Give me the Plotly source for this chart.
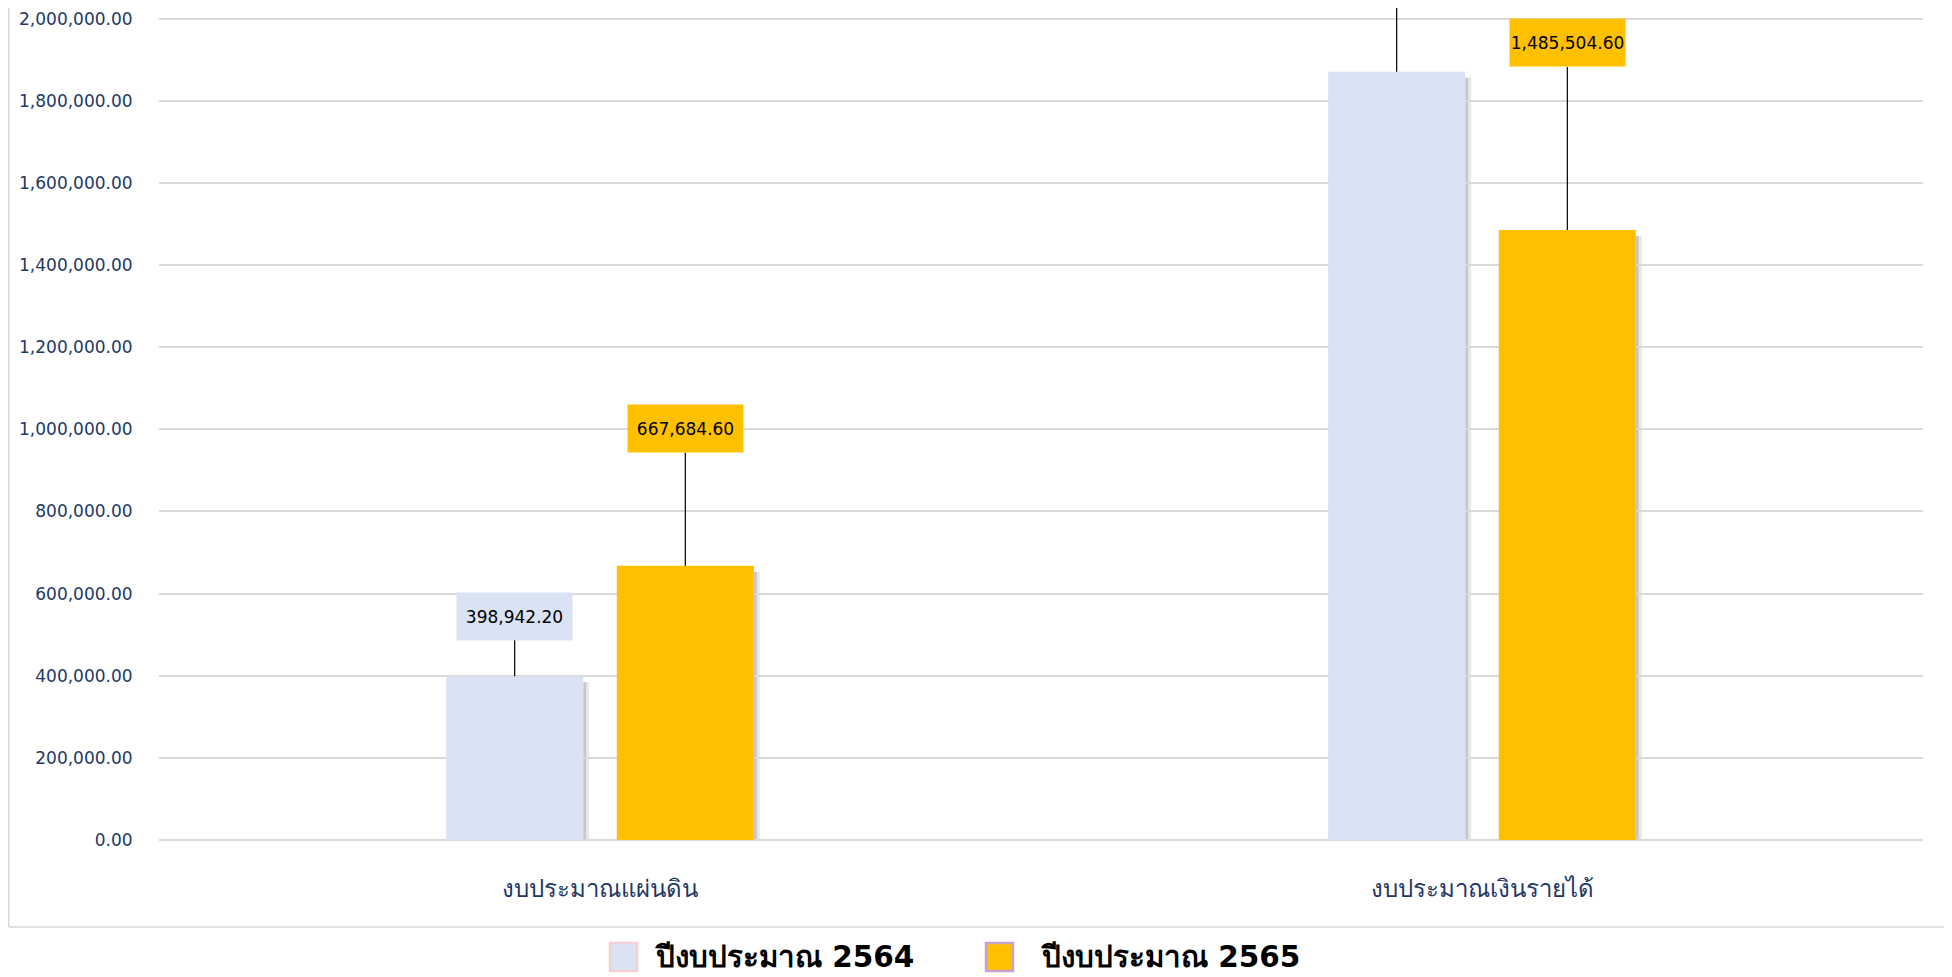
import plotly.graph_objects as go

# ---------------- data ----------------
categories = ["งบประมาณแผ่นดิน", "งบประมาณเงินรายได้"]
series_names = ["ปีงบประมาณ 2564", "ปีงบประมาณ 2565"]
values_2564 = [398942.20, 1871000.00]
values_2565 = [667684.60, 1485504.60]
y_ticks = [0, 200000, 400000, 600000, 800000, 1000000, 1200000, 1400000,
           1600000, 1800000, 2000000]

# ---------------- style / layout constants ----------------
W, H = 1944, 969          # page body has an 8px margin
M_L, M_R, M_T, M_B = 151, 29, 0, 137
Y_MAX = 2026000
colors = ["#DAE3F3", "#FFC000"]
legend_borders = ["#F6CED6", "#C8A2CC"]
tick_color = "#1F3864"
grid_color = "#D9D9D9"
BARGAP = 0.613
BARGROUPGAP = 0.197
# px above bar top for each data label (None = label lies off the chart)
label_offsets = [[60, None], [137, 187]]

plot_w = W - M_L - M_R
plot_h = H - M_T - M_B
units_per_px = Y_MAX / plot_h

series = [values_2564, values_2565]

fig = go.Figure()
x_idx = list(range(len(categories)))
for name, vals, col in zip(series_names, series, colors):
    fig.add_trace(go.Bar(
        x=x_idx, y=vals, name=name,
        marker=dict(color=col, line=dict(width=0)),
        showlegend=False, hoverinfo="y",
    ))

slot = (1 - BARGAP) / len(series)
bar_w = slot * (1 - BARGROUPGAP)

annotations = []
shapes = []
for j, vals in enumerate(series):
    for i, v in enumerate(vals):
        cx = i + (j - (len(series) - 1) / 2) * slot
        off = label_offsets[j][i]
        if off is None:
            # leader line running up past the top of the chart
            shapes.append(dict(type="line", xref="x", yref="y",
                               x0=cx, x1=cx, y0=v, y1=Y_MAX * 1.05,
                               line=dict(color="#000000", width=1.2)))
        else:
            annotations.append(dict(
                x=cx, y=v, xref="x", yref="y",
                text=f"{v:,.2f}", showarrow=True,
                ax=0, ay=-off,
                arrowhead=0, arrowwidth=1.2, arrowcolor="#000000", standoff=0,
                bgcolor=colors[j], width=113, height=45,
                font=dict(family="DejaVu Sans, sans-serif", size=17, color="#000000"),
            ))
        # soft drop shadow on the right side and bottom
        right = cx + bar_w / 2
        for (p0, p1, a) in [(0, 3, 0.22), (3, 6, 0.09)]:
            shapes.append(dict(
                type="rect", xref="x", yref="y", layer="below",
                xsizemode="pixel", xanchor=right, x0=p0, x1=p1,
                y0=-4 * units_per_px, y1=v - 6 * units_per_px,
                fillcolor=f"rgba(0,0,0,{a})", line=dict(width=0),
            ))
        shapes.append(dict(
            type="rect", xref="x", yref="y", layer="below",
            x0=cx - bar_w / 2 + 0.004, x1=right,
            ysizemode="pixel", yanchor=0, y0=-1, y1=-4,
            fillcolor="rgba(0,0,0,0.12)", line=dict(width=0),
        ))


def px_to_paper_x(px):
    return (px - M_L) / plot_w


def px_to_paper_y(py):
    return (H - M_B - py) / plot_h


# container border (left and bottom)
shapes.append(dict(type="line", xref="paper", yref="paper",
                   x0=px_to_paper_x(0.75), x1=px_to_paper_x(0.75),
                   y0=px_to_paper_y(919), y1=px_to_paper_y(-5),
                   line=dict(color=grid_color, width=1.5)))
shapes.append(dict(type="line", xref="paper", yref="paper",
                   x0=px_to_paper_x(0.75), x1=px_to_paper_x(W + 5),
                   y0=px_to_paper_y(919), y1=px_to_paper_y(919),
                   line=dict(color=grid_color, width=1.5)))

# manual legend (large symbols)
legend_sq_x = [602, 978]
legend_txt_x = [645, 1031]
legend_y = 949
for k, name in enumerate(series_names):
    x0 = legend_sq_x[k]
    shapes.append(dict(type="rect", xref="paper", yref="paper",
                       x0=px_to_paper_x(x0), x1=px_to_paper_x(x0 + 27),
                       y0=px_to_paper_y(legend_y + 14), y1=px_to_paper_y(legend_y - 14),
                       fillcolor=colors[k], line=dict(color=legend_borders[k], width=2.5)))
    annotations.append(dict(
        x=px_to_paper_x(legend_txt_x[k]), y=px_to_paper_y(legend_y),
        xref="paper", yref="paper", xanchor="left", yanchor="middle",
        text=f"<b>{name}</b>", showarrow=False,
        font=dict(family="DejaVu Sans, sans-serif", size=29.5, color="#000000"),
    ))

fig.update_layout(
    width=W, height=H,
    margin=dict(l=M_L, r=M_R, t=M_T, b=M_B, autoexpand=False),
    paper_bgcolor="white", plot_bgcolor="white",
    barmode="group", bargap=BARGAP, bargroupgap=BARGROUPGAP,
    annotations=annotations, shapes=shapes,
    xaxis=dict(
        tickmode="array", tickvals=x_idx, ticktext=categories,
        range=[-0.5, len(categories) - 0.5],
        showgrid=False, zeroline=False, showline=False,
        ticks="outside", ticklen=27, tickcolor="rgba(0,0,0,0)",
        tickfont=dict(family="DejaVu Sans, sans-serif", size=24, color=tick_color),
    ),
    yaxis=dict(
        range=[0, Y_MAX], tickmode="array", tickvals=y_ticks,
        tickformat=",.2f",
        showgrid=True, gridcolor=grid_color, gridwidth=1.5,
        zeroline=True, zerolinecolor=grid_color, zerolinewidth=2,
        showline=False,
        ticks="outside", ticklen=22, tickcolor="rgba(0,0,0,0)",
        tickfont=dict(family="DejaVu Sans, sans-serif", size=17, color=tick_color),
    ),
    showlegend=False,
)

fig.write_html("out.html")
